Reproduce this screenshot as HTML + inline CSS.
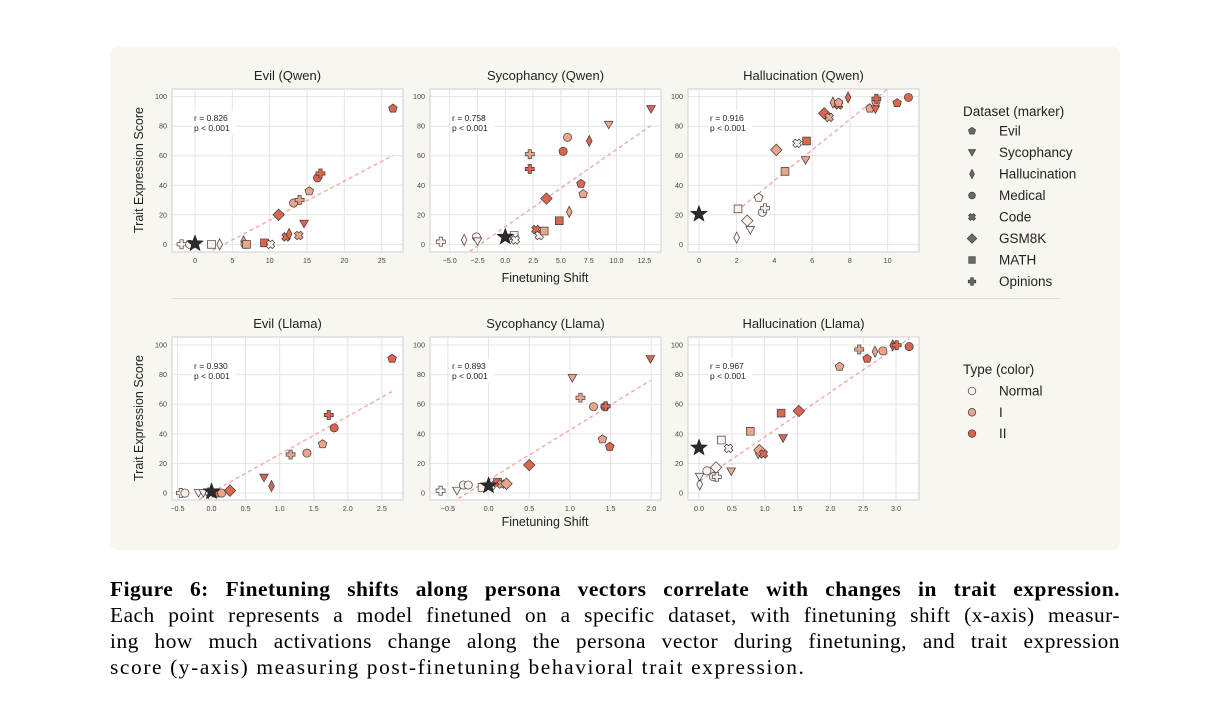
<!DOCTYPE html>
<html><head><meta charset="utf-8">
<style>
body{margin:0;background:#fff;width:1228px;height:715px;overflow:hidden;position:relative;font-family:"Liberation Sans","DejaVu Sans",sans-serif}
#card{position:absolute;left:110px;top:47px;width:1010px;height:503px;background:#f8f6f1;border-radius:8px}
svg{position:absolute;left:0;top:0}
#cap{position:absolute;left:110px;top:576px;width:1010px;font-family:"Liberation Serif","DejaVu Serif",serif;font-size:21.4px;line-height:26px;color:#000}
#cap div{text-align:justify;text-align-last:justify;white-space:nowrap;letter-spacing:0.5px;overflow:hidden}
#cap div.last{text-align-last:left;letter-spacing:1.6px}
</style></head><body>
<div id="card"></div>
<svg id="fig" width="1228" height="715"></svg>
<div id="cap">
<div><b>Figure 6:</b> <b>Finetuning shifts along persona vectors correlate with changes in trait expression.</b></div>
<div>Each point represents a model finetuned on a specific dataset, with finetuning shift (x-axis) measur-</div>
<div>ing how much activations change along the persona vector during finetuning, and trait expression</div>
<div class="last">score (y-axis) measuring post-finetuning behavioral trait expression.</div>
</div>
<script>
// ---- data ----
const titles=["Evil (Qwen)","Sycophancy (Qwen)","Hallucination (Qwen)","Evil (Llama)","Sycophancy (Llama)","Hallucination (Llama)"];
const rLabels=["r = 0.826","r = 0.758","r = 0.916","r = 0.930","r = 0.893","r = 0.967"];
const xs1=[-1.8,-0.7,2.2,3.3,6.5,6.7,6.9,9.3,10.1,11.2,12.2,12.6,13.9,14.6,13.2,14.0,15.3,16.4,16.8,26.5];
const ys1=[0,0,0,0,2,0,0,1,0,20,5,7,6,14,28,30,36,45,48,92];
const mk1=["C","O","S","H","H","O","S","S","X","D","X","H","X","V","O","C","P","O","C","P"];
const tp1=[0,0,0,0,1,1,1,2,0,2,2,2,1,2,1,1,1,2,2,2];
const xs2=[-5.8,-3.7,-2.6,-2.5,0.8,0.9,2.2,2.2,2.75,3.05,3.5,3.7,4.85,5.2,5.6,5.75,6.8,7.0,7.55,9.3,13.1];
const ys2=[1.8,3,5,2,6,3,61,51,10,6,9,31,16,63,72.5,22,41,34,70,81,91.6];
const mk2=["C","H","O","V","S","X","C","C","X","X","S","D","S","O","O","H","P","P","H","V","V"];
const tp2=[0,0,0,0,0,0,1,2,2,0,1,2,2,2,1,1,2,1,2,1,2];
const xs3=[2.0,2.07,2.56,2.72,3.16,3.36,3.5,4.1,4.56,5.2,5.7,5.65,6.64,6.9,7.1,7.4,7.4,7.9,9.06,9.35,9.38,9.4,10.5,11.1];
const ys3=[4.5,24,16,9.7,31.6,21.7,24.4,64,49.4,68.4,70,57,88.7,86,96,94.4,96,99.5,92,91.4,96.6,98.6,95.7,99.5];
const mk3=["H","S","D","V","P","O","C","D","S","X","S","V","D","X","H","X","P","H","P","V","O","C","P","O"];
const tp3=[0,0,0,0,0,0,0,1,1,0,2,1,2,1,1,2,1,2,1,2,1,2,2,2];
const xs4=[-0.45,-0.39,-0.19,-0.12,-0.05,0.05,0.08,0.15,0.27,0.77,0.88,1.16,1.4,1.63,1.72,1.8,2.65];
const ys4=[0,0,0,0,0,0,0,0,1.6,10.4,4.7,26,27,33,52.7,44,90.8];
const mk4=["C","O","V","V","H","X","S","O","D","V","H","C","O","P","C","O","P"];
const tp4=[0,0,0,0,0,2,2,1,2,2,2,1,1,1,2,2,2];
const xs5=[-0.59,-0.39,-0.31,-0.25,-0.08,0.03,0.11,0.16,0.22,0.5,1.03,1.13,1.29,1.43,1.44,1.4,1.49,1.99];
const ys5=[1.6,1.6,5.4,5.4,3.8,5,7.4,6,6.3,18.9,77.7,64.4,58.3,58.3,58.6,36.3,31.3,90.5];
const mk5=["C","V","O","O","S","X","S","X","D","D","V","C","O","O","C","P","P","V"];
const tp5=[0,0,0,0,0,0,2,1,1,2,1,1,1,2,2,1,2,2];
const xs6=[0.01,0.01,0.12,0.22,0.27,0.26,0.34,0.45,0.49,0.78,0.9,0.92,0.98,1.25,1.28,1.52,2.14,2.44,2.56,2.68,2.8,2.95,3.01,3.2];
const ys6=[5.9,11,15,11,11,17.3,35.8,30.2,14.6,41.7,27,29,26.4,54,37,55.4,85.4,97,90.8,95.5,96,99.8,99.8,98.9];
const mk6=["H","V","O","O","C","D","S","X","V","S","H","D","X","S","V","D","P","C","P","H","O","H","C","O"];
const tp6=[0,0,0,0,0,0,0,0,1,1,1,1,2,2,2,2,1,1,2,1,1,2,2,2];
const starY=[0.5,5,20.5,1,5,30.6];
const fitSlope=[2.66,5.23,10.35,25.7,33.8,30.2];
const fitIntercept=[-10.3,11.9,1.8,0.44,8.8,7.7];
const xTicks=[[0,5,10,15,20,25],[-5,-2.5,0,2.5,5,7.5,10,12.5],[0,2,4,6,8,10],[-0.5,0,0.5,1,1.5,2,2.5],[-0.5,0,0.5,1,1.5,2],[0,0.5,1,1.5,2,2.5,3]];
const xDec=[0,1,0,1,1,1];
const yTicks=[0,20,40,60,80,100];
const xDomains=[[-3.08,27.85],[-6.77,14.0],[-0.58,11.66],[-0.58,2.81],[-0.72,2.12],[-0.168,3.35]];
const legendMarkers=["Evil","Sycophancy","Hallucination","Medical","Code","GSM8K","MATH","Opinions"];
const legendCodes=["P","V","H","O","X","D","S","C"];
const typeNames=["Normal","I","II"];
// ---- drawing ----
const XS=[xs1,xs2,xs3,xs4,xs5,xs6],YS=[ys1,ys2,ys3,ys4,ys5,ys6],MK=[mk1,mk2,mk3,mk4,mk5,mk6],TP=[tp1,tp2,tp3,tp4,tp5,tp6];
const colors=["#fdf0ea","#eba58c","#da6650"];
const NS="http://www.w3.org/2000/svg";
const svg=document.getElementById("fig");
function el(t,a,p){const e=document.createElementNS(NS,t);for(const k in a)e.setAttribute(k,a[k]);(p||svg).appendChild(e);return e;}
function poly(pts){return pts.map(p=>p[0].toFixed(2)+","+p[1].toFixed(2)).join(" ");}
function shape(code,cx,cy,fill,parent,s){
  s=s||4.1;let e;const st={fill:fill,stroke:"#3a3a3a","stroke-width":0.7};
  const P=pts=>el("polygon",Object.assign({points:poly(pts.map(p=>[cx+p[0],cy+p[1]]))},st),parent);
  if(code==="O"){e=el("circle",Object.assign({cx:cx,cy:cy,r:s},st),parent);}
  else if(code==="P"){const r=s*1.1,pts=[];for(let i=0;i<5;i++){const a=-Math.PI/2+i*2*Math.PI/5;pts.push([r*Math.cos(a),r*Math.sin(a)]);}e=P(pts);}
  else if(code==="V"){e=P([[-s*1.05,-s*0.85],[s*1.05,-s*0.85],[0,s*1.0]]);}
  else if(code==="H"){e=P([[0,-s*1.35],[s*0.7,0],[0,s*1.35],[-s*0.7,0]]);}
  else if(code==="D"){const d=s*1.4;e=P([[0,-d],[d,0],[0,d],[-d,0]]);}
  else if(code==="S"){const d=s*0.95;e=P([[-d,-d],[d,-d],[d,d],[-d,d]]);}
  else if(code==="C"){const a=s*0.4,b=s*1.1;e=P([[-a,-b],[a,-b],[a,-a],[b,-a],[b,a],[a,a],[a,b],[-a,b],[-a,a],[-b,a],[-b,-a],[-a,-a]]);}
  else if(code==="X"){const a=s*0.42,b=s*1.05,pts=[];const base=[[-a,-b],[a,-b],[a,-a],[b,-a],[b,a],[a,a],[a,b],[-a,b],[-a,a],[-b,a],[-b,-a],[-a,-a]];const c=Math.SQRT1_2;base.forEach(p=>pts.push([(p[0]-p[1])*c,(p[0]+p[1])*c]));e=P(pts);}
  return e;
}
function star(cx,cy,R,parent){const pts=[];for(let i=0;i<10;i++){const r=i%2?R*0.42:R;const a=-Math.PI/2+i*Math.PI/5;pts.push([cx+r*Math.cos(a),cy+r*Math.sin(a)]);}return el("polygon",{points:poly(pts),fill:"#2b2b2b",stroke:"#1a1a1a","stroke-width":0.6},parent);}
const frames=[[172,403,89,252],[430,661,89,252],[688,919,89,252],[172,403,337,500],[430,661,337,500],[688,919,337,500]];
const yDom=[[-5.2,105.2],[-4.7,105.4]];
const fmt=(v,d)=>(v<0?"\u2212":"")+Math.abs(v).toFixed(d);
for(let p=0;p<6;p++){
  const [L,R,T,B]=frames[p];const row=p<3?0:1;const [x0,x1]=xDomains[p];const [y0,y1]=yDom[row];
  const sx=v=>L+(v-x0)/(x1-x0)*(R-L);const sy=v=>B-(v-y0)/(y1-y0)*(B-T);
  const g=el("g",{});
  
  
  el("rect",{x:L,y:T,width:R-L,height:B-T,fill:"#fff"},g);
  const cp="clip"+p;const cd=el("clipPath",{id:cp},g);el("rect",{x:L,y:T,width:R-L,height:B-T},cd);
  xTicks[p].forEach(t=>{const x=sx(t);el("line",{x1:x,x2:x,y1:T,y2:B,stroke:"#e4e4e4","stroke-width":1},g);
    const tx=el("text",{x:x,y:B+11,"font-size":7.2,"text-anchor":"middle",fill:"#444"},g);tx.textContent=fmt(t,xDec[p]);
    
    });
  yTicks.forEach(t=>{const y=sy(t);el("line",{x1:L,x2:R,y1:y,y2:y,stroke:"#e4e4e4","stroke-width":1},g);
    const tx=el("text",{x:L-5,y:y+2.5,"font-size":7.2,"text-anchor":"end",fill:"#444"},g);tx.textContent=t;
    
    });
  el("rect",{x:L,y:T,width:R-L,height:B-T,fill:"none",stroke:"#cfcfcf","stroke-width":1},g);
  const ttl=el("text",{x:(L+R)/2,y:T-9,"font-size":13,"text-anchor":"middle",fill:"#222"},g);ttl.textContent=titles[p];
  
  
  const xa=Math.min(...XS[p]),xb=Math.max(...XS[p]);
  const fl=el("line",{x1:sx(xa),y1:sy(fitSlope[p]*xa+fitIntercept[p]),x2:sx(xb),y2:sy(fitSlope[p]*xb+fitIntercept[p]),stroke:"#f2a3a0","stroke-width":1.3,"stroke-dasharray":"4,3","clip-path":"url(#"+cp+")"},g);
  
  
  el("rect",{x:L+20,y:T+22,width:44,height:24,fill:"#fff"},g);
  const r1=el("text",{x:L+22,y:T+32,"font-size":8.5,fill:"#222"},g);r1.textContent=rLabels[p];
  
  
  const r2=el("text",{x:L+22,y:T+42,"font-size":8.5,fill:"#222"},g);r2.textContent="p < 0.001";
  
  
  const pg=el("g",{"clip-path":"url(#"+cp+")"},g);
  for(let i=0;i<XS[p].length;i++){const m=shape(MK[p][i],sx(XS[p][i]),sy(YS[p][i]),colors[TP[p][i]],pg);
    
    }
  const s=star(sx(0),sy(starY[p]),8.5,pg);
  
  
}
[[143,170],[143,418]].forEach(c=>{const t=el("text",{x:c[0],y:c[1],"font-size":12.5,"text-anchor":"middle",fill:"#222",transform:"rotate(-90 "+c[0]+" "+c[1]+")"});t.textContent="Trait Expression Score";
  
  });
[[545,282],[545,526]].forEach(c=>{const t=el("text",{x:c[0],y:c[1],"font-size":12.5,"text-anchor":"middle",fill:"#222"});t.textContent="Finetuning Shift";
  
  });
const sep=el("line",{x1:172,x2:1060,y1:298.5,y2:298.5,stroke:"#dcdad5","stroke-width":1});


const lt=el("text",{x:963,y:116,"font-size":13.5,fill:"#222"});lt.textContent="Dataset (marker)";


legendMarkers.forEach((n,i)=>{const y=131+i*21.5;const g=el("g",{});
  
  
  shape(legendCodes[i],972,y,"#6b6b6b",g,3.4);const t=el("text",{x:999,y:y+4.5,"font-size":13.5,fill:"#222"},g);t.textContent=n;});
const lt2=el("text",{x:963,y:374,"font-size":13.5,fill:"#222"});lt2.textContent="Type (color)";


typeNames.forEach((n,i)=>{const y=391+i*21.3;const g=el("g",{});
  
  
  el("circle",{cx:972,cy:y,r:3.8,fill:colors[i],stroke:"#3a3a3a","stroke-width":0.7},g);const t=el("text",{x:999,y:y+4.5,"font-size":13.5,fill:"#222"},g);t.textContent=n;});
</script>
</body></html>
